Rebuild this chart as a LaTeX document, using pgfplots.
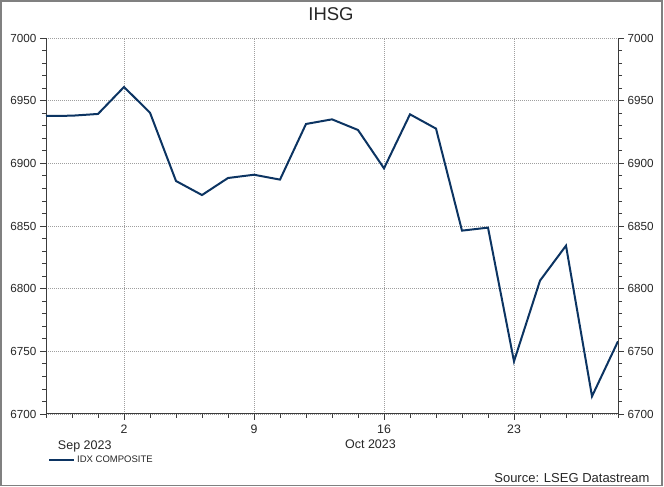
\documentclass[border=0pt]{standalone}
\usepackage{fontspec}
\setmainfont{Liberation Sans}
\usepackage{pgfplots}
\pgfplotsset{compat=1.18}
\usepackage{pgfplotstable}
\definecolor{navy}{RGB}{12,52,98}
\definecolor{axgray}{RGB}{60,60,60}
\definecolor{frm}{RGB}{128,128,128}
\pgfplotstableread{
idx val
0 6937.8
1 6938.0
2 6939.4
3 6960.9
4 6940.4
5 6885.9
6 6874.7
7 6888.3
8 6890.9
9 6887.0
10 6931.4
11 6935.1
12 6926.6
13 6896.0
14 6939.1
15 6927.7
16 6846.3
17 6848.7
18 6742.0
19 6806.4
20 6834.3
21 6714.1
22 6758.0
}\ihsg
\begin{document}
\begin{tikzpicture}[x=1pt,y=1pt]
\useasboundingbox (0,0) rectangle (664,487);
\draw[frm,line width=1.5pt] (1,1.5) rectangle (662,486);
\node[anchor=base,font=\fontsize{18.5}{20}\selectfont,text=black!85] at (331,466.3) {IHSG};
\node[anchor=base east,font=\fontsize{13}{15}\selectfont,text=black!85] at (653,4.3) {Source: LSEG Datastream};
\pgfplotsset{
  common/.style={
    scale only axis, width=572pt, height=376pt,
    at={(46pt,73pt)}, anchor=south west,
    xmin=0, xmax=22, ymin=6700, ymax=7000,
    ytick={6700,6750,...,7000},
    minor ytick={6700,6710,...,7000},
    tick align=outside,
    major tick length=6pt, minor tick length=4pt,
    tick style={axgray, line width=0.8pt},
    axis line style={axgray, line width=1pt},
    /pgf/number format/assume math mode=true,
    /pgf/number format/1000 sep={},
    ticklabel style={font=\fontsize{11.7}{14}\selectfont, text=black!85},
    clip=false,
  }
}
\begin{axis}[common,
  axis x line*=bottom, axis y line*=left,
  xtick={3,8,13,18}, xticklabels={2,9,16,23},
  minor xtick={0,1,...,22},
  xticklabel style={font=\fontsize{12.3}{14}\selectfont, yshift=-1pt},
  xmajorgrids, ymajorgrids,
  major grid style={gray!75, line width=0.6pt, dash pattern=on 1pt off 1pt},
  legend style={at={(axis description cs:0,-0.122)}, anchor=west, draw=none, fill=none,
    inner sep=0pt, font=\fontsize{9.5}{11}\selectfont, text=black!85, xshift=2pt},
  legend image code/.code={\draw[#1] (0pt,0pt) -- (25pt,0pt);},
  legend cell align=left,
]
\addplot[navy, line width=2pt, line join=miter] table[x=idx,y=val] {\ihsg};
\addlegendentry{IDX COMPOSITE}
\node[anchor=base, font=\fontsize{12.5}{14}\selectfont, text=black!85, yshift=-36pt] at (axis cs:1.49,6700) {Sep 2023};
\node[anchor=base, font=\fontsize{12.5}{14}\selectfont, text=black!85, yshift=-35pt] at (axis cs:12.48,6700) {Oct 2023};
\end{axis}
\begin{axis}[common,
  axis x line=none, axis y line*=right,
  xtick=\empty,
]
\end{axis}
\end{tikzpicture}
\end{document}
